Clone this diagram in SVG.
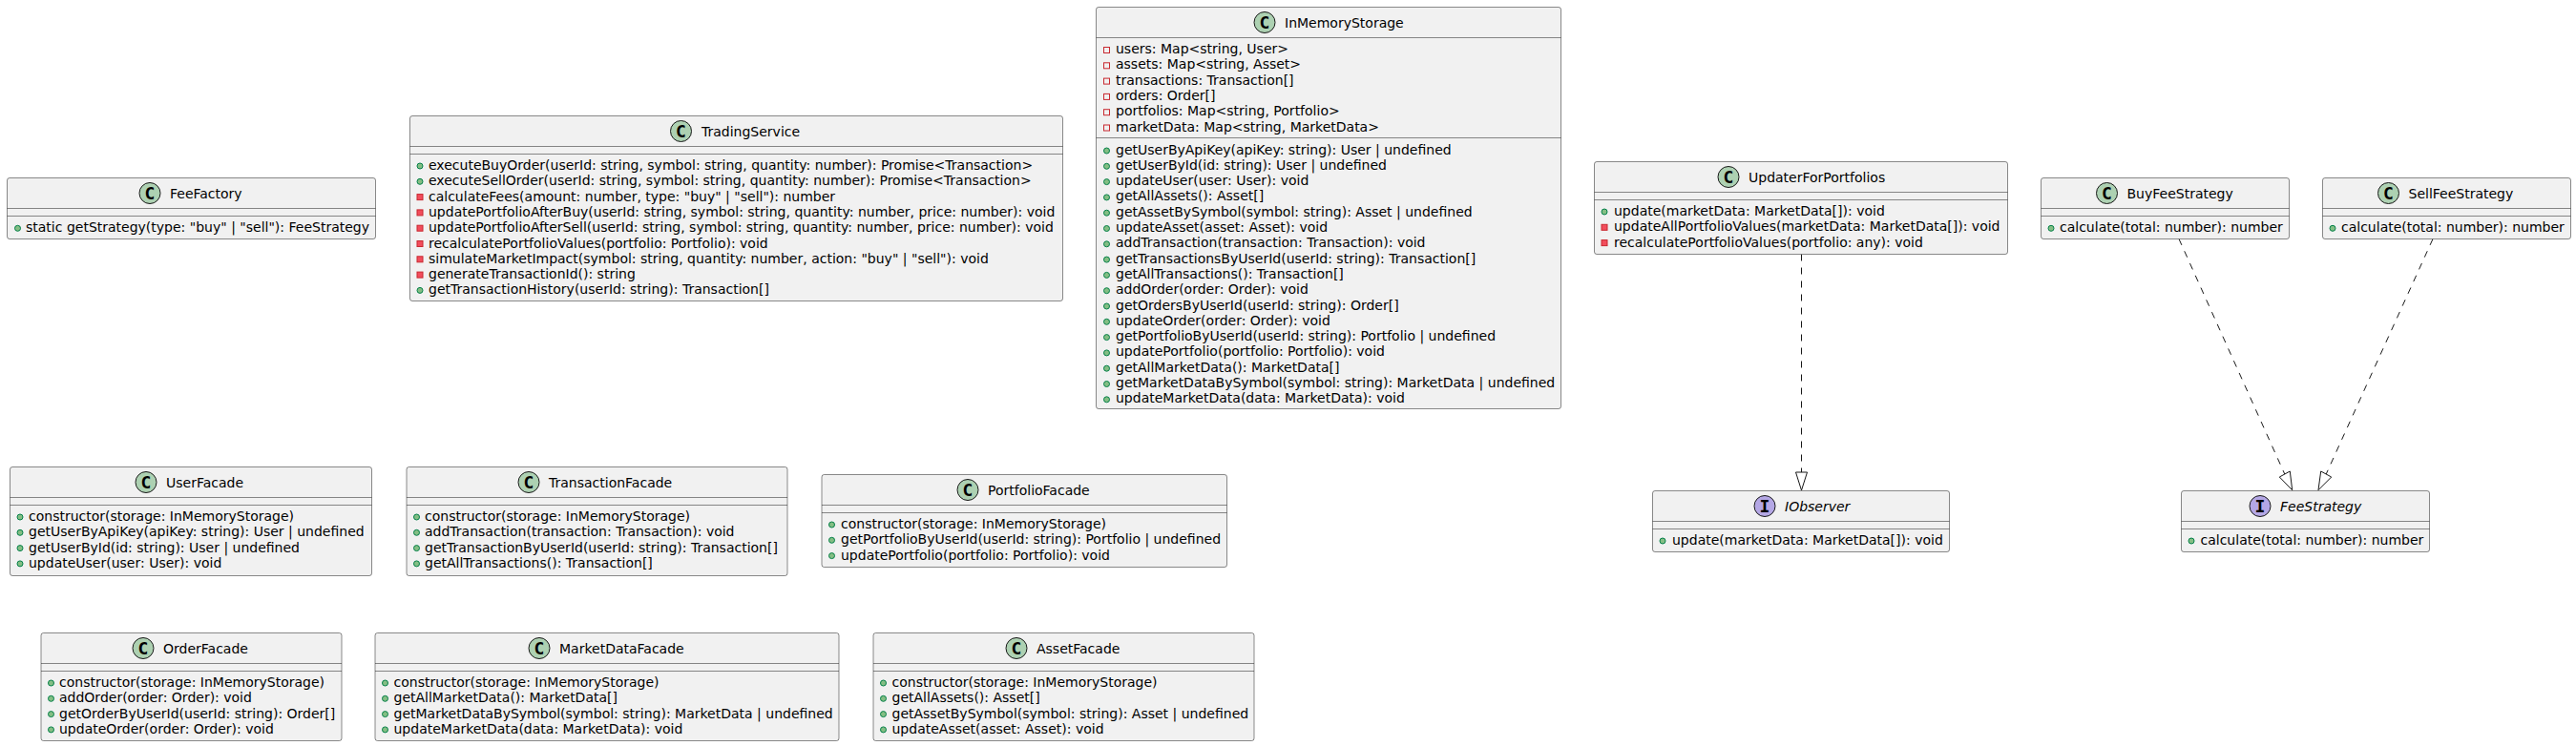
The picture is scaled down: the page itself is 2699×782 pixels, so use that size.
<svg xmlns="http://www.w3.org/2000/svg" width="2699" height="782" viewBox="0 0 2699 782">
<style>
text{font-family:"DejaVu Sans",sans-serif;font-size:14px;fill:#000}
.b{fill:#F1F1F1;stroke:#181818;stroke-width:.5}
.s{stroke:#181818;stroke-width:.5}
.c{fill:#ADD1B2;stroke:#181818;stroke-width:1}
.i{fill:#B4A7E5;stroke:#181818;stroke-width:1}
.g{font-family:"DejaVu Sans Mono",monospace;font-size:18px;font-weight:bold;text-anchor:middle}
.p{fill:#84BE84;stroke:#038048}
.r{fill:#F24D5C;stroke:#C82930}
.f{fill:none;stroke:#C82930}
.e{font-style:italic}
.l{fill:none;stroke:#181818;stroke-width:1;stroke-dasharray:7,7}
.h{fill:none;stroke:#181818;stroke-width:1}
</style>
<defs>
<circle id="pub" class="p" r="3"/>
<rect id="pri" class="r" x="-3" y="-3" width="6" height="6"/>
<rect id="fld" class="f" x="-3" y="-3" width="6" height="6"/>
</defs>
<g id="connectors">
<path class="l" d="M1887.500 266.500V495"/><polygon class="h" points="1887.500,514 1881.500,495 1893.500,495"/>
<path class="l" d="M2283 250.500L2393.800 497"/><polygon class="h" points="2401.700,513.700 2388.300,500 2399.300,494"/>
<path class="l" d="M2549 250.500L2437.200 497"/><polygon class="h" points="2429,513.700 2431.700,494 2442.700,500"/>
</g>
<g id="FeeFactory"><rect class="b" x="7.500" y="186.500" width="386" height="64" rx="2.500"/><path class="s" d="M7.500 218.500H393.500M7.500 226.500H393.500"/><circle class="c" cx="157" cy="202.500" r="11"/><text class="g" x="157" y="208.500">C</text><text x="178" y="207.500">FeeFactory</text><use href="#pub" x="18.500" y="239.300"/><text x="27" y="243.300">static getStrategy(type: "buy" | "sell"): FeeStrategy</text></g>
<g id="TradingService"><rect class="b" x="429.500" y="121.500" width="684" height="194" rx="2.500"/><path class="s" d="M429.500 153.500H1113.500M429.500 161.500H1113.500"/><circle class="c" cx="713.500" cy="137.500" r="11"/><text class="g" x="713.500" y="143.500">C</text><text x="735" y="142.500">TradingService</text>
<use href="#pub" x="440" y="174"/><text x="449" y="178">executeBuyOrder(userId: string, symbol: string, quantity: number): Promise&lt;Transaction&gt;</text>
<use href="#pub" x="440" y="190.300"/><text x="449" y="194.300">executeSellOrder(userId: string, symbol: string, quantity: number): Promise&lt;Transaction&gt;</text>
<use href="#pri" x="440" y="206.600"/><text x="449" y="210.600">calculateFees(amount: number, type: "buy" | "sell"): number</text>
<use href="#pri" x="440" y="222.900"/><text x="449" y="226.900">updatePortfolioAfterBuy(userId: string, symbol: string, quantity: number, price: number): void</text>
<use href="#pri" x="440" y="239.200"/><text x="449" y="243.200">updatePortfolioAfterSell(userId: string, symbol: string, quantity: number, price: number): void</text>
<use href="#pri" x="440" y="255.500"/><text x="449" y="259.500">recalculatePortfolioValues(portfolio: Portfolio): void</text>
<use href="#pri" x="440" y="271.800"/><text x="449" y="275.800">simulateMarketImpact(symbol: string, quantity: number, action: "buy" | "sell"): void</text>
<use href="#pri" x="440" y="288.100"/><text x="449" y="292.100">generateTransactionId(): string</text>
<use href="#pub" x="440" y="304.400"/><text x="449" y="308.400">getTransactionHistory(userId: string): Transaction[]</text></g>
<g id="InMemoryStorage"><rect class="b" x="1148.500" y="7.500" width="487" height="421" rx="2.500"/><path class="s" d="M1148.500 39.500H1635.500M1148.500 144.500H1635.500"/><circle class="c" cx="1325" cy="23.500" r="11"/><text class="g" x="1325" y="29.500">C</text><text x="1346" y="28.500">InMemoryStorage</text>
<use href="#fld" x="1159.500" y="52.500"/><text x="1169" y="56">users: Map&lt;string, User&gt;</text>
<use href="#fld" x="1159.500" y="68.800"/><text x="1169" y="72.300">assets: Map&lt;string, Asset&gt;</text>
<use href="#fld" x="1159.500" y="85.100"/><text x="1169" y="88.600">transactions: Transaction[]</text>
<use href="#fld" x="1159.500" y="101.400"/><text x="1169" y="104.900">orders: Order[]</text>
<use href="#fld" x="1159.500" y="117.700"/><text x="1169" y="121.200">portfolios: Map&lt;string, Portfolio&gt;</text>
<use href="#fld" x="1159.500" y="134"/><text x="1169" y="137.500">marketData: Map&lt;string, MarketData&gt;</text>
<use href="#pub" x="1159.500" y="158"/><text x="1169" y="161.500">getUserByApiKey(apiKey: string): User | undefined</text>
<use href="#pub" x="1159.500" y="174.300"/><text x="1169" y="177.800">getUserById(id: string): User | undefined</text>
<use href="#pub" x="1159.500" y="190.600"/><text x="1169" y="194.100">updateUser(user: User): void</text>
<use href="#pub" x="1159.500" y="206.900"/><text x="1169" y="210.400">getAllAssets(): Asset[]</text>
<use href="#pub" x="1159.500" y="223.200"/><text x="1169" y="226.700">getAssetBySymbol(symbol: string): Asset | undefined</text>
<use href="#pub" x="1159.500" y="239.500"/><text x="1169" y="243">updateAsset(asset: Asset): void</text>
<use href="#pub" x="1159.500" y="255.800"/><text x="1169" y="259.300">addTransaction(transaction: Transaction): void</text>
<use href="#pub" x="1159.500" y="272.100"/><text x="1169" y="275.600">getTransactionsByUserId(userId: string): Transaction[]</text>
<use href="#pub" x="1159.500" y="288.400"/><text x="1169" y="291.900">getAllTransactions(): Transaction[]</text>
<use href="#pub" x="1159.500" y="304.700"/><text x="1169" y="308.200">addOrder(order: Order): void</text>
<use href="#pub" x="1159.500" y="321"/><text x="1169" y="324.500">getOrdersByUserId(userId: string): Order[]</text>
<use href="#pub" x="1159.500" y="337.300"/><text x="1169" y="340.800">updateOrder(order: Order): void</text>
<use href="#pub" x="1159.500" y="353.600"/><text x="1169" y="357.100">getPortfolioByUserId(userId: string): Portfolio | undefined</text>
<use href="#pub" x="1159.500" y="369.900"/><text x="1169" y="373.400">updatePortfolio(portfolio: Portfolio): void</text>
<use href="#pub" x="1159.500" y="386.200"/><text x="1169" y="389.700">getAllMarketData(): MarketData[]</text>
<use href="#pub" x="1159.500" y="402.500"/><text x="1169" y="406">getMarketDataBySymbol(symbol: string): MarketData | undefined</text>
<use href="#pub" x="1159.500" y="418.800"/><text x="1169" y="422.300">updateMarketData(data: MarketData): void</text></g>
<g id="UpdaterForPortfolios"><rect class="b" x="1670.500" y="169.500" width="433" height="97" rx="2.500"/><path class="s" d="M1670.500 201.500H2103.500M1670.500 209.500H2103.500"/><circle class="c" cx="1811" cy="185.500" r="11"/><text class="g" x="1811" y="191.500">C</text><text x="1832" y="190.500">UpdaterForPortfolios</text>
<use href="#pub" x="1681" y="222"/><text x="1691" y="226">update(marketData: MarketData[]): void</text>
<use href="#pri" x="1681" y="238.300"/><text x="1691" y="242.300">updateAllPortfolioValues(marketData: MarketData[]): void</text>
<use href="#pri" x="1681" y="254.600"/><text x="1691" y="258.600">recalculatePortfolioValues(portfolio: any): void</text></g>
<g id="BuyFeeStrategy"><rect class="b" x="2138.500" y="186.500" width="260" height="64" rx="2.500"/><path class="s" d="M2138.500 218.500H2398.500M2138.500 226.500H2398.500"/><circle class="c" cx="2207.500" cy="202.500" r="11"/><text class="g" x="2207.500" y="208.500">C</text><text x="2228.500" y="207.500">BuyFeeStrategy</text><use href="#pub" x="2149" y="239.300"/><text x="2158" y="243.300">calculate(total: number): number</text></g>
<g id="SellFeeStrategy"><rect class="b" x="2433.500" y="186.500" width="260" height="64" rx="2.500"/><path class="s" d="M2433.500 218.500H2693.500M2433.500 226.500H2693.500"/><circle class="c" cx="2502.500" cy="202.500" r="11"/><text class="g" x="2502.500" y="208.500">C</text><text x="2523.500" y="207.500">SellFeeStrategy</text><use href="#pub" x="2444" y="239.300"/><text x="2453" y="243.300">calculate(total: number): number</text></g>
<g id="IObserver"><rect class="b" x="1731.500" y="514.500" width="311" height="64" rx="2.500"/><path class="s" d="M1731.500 546.500H2042.500M1731.500 554.500H2042.500"/><circle class="i" cx="1849" cy="530.500" r="11"/><text class="g" x="1849" y="536.500">I</text><text class="e" x="1870" y="535.500">IObserver</text><use href="#pub" x="1742" y="567"/><text x="1752" y="571">update(marketData: MarketData[]): void</text></g>
<g id="FeeStrategy"><rect class="b" x="2285.500" y="514.500" width="260" height="64" rx="2.500"/><path class="s" d="M2285.500 546.500H2545.500M2285.500 554.500H2545.500"/><circle class="i" cx="2368" cy="530.500" r="11"/><text class="g" x="2368" y="536.500">I</text><text class="e" x="2389" y="535.500">FeeStrategy</text><use href="#pub" x="2296" y="567"/><text x="2305.500" y="571">calculate(total: number): number</text></g>
<g id="UserFacade"><rect class="b" x="10.500" y="489.500" width="379" height="114" rx="2.500"/><path class="s" d="M10.500 521.500H389.500M10.500 529.500H389.500"/><circle class="c" cx="153" cy="505.500" r="11"/><text class="g" x="153" y="511.500">C</text><text x="174" y="510.500">UserFacade</text>
<use href="#pub" x="21" y="542"/><text x="30" y="546">constructor(storage: InMemoryStorage)</text>
<use href="#pub" x="21" y="558.300"/><text x="30" y="562.300">getUserByApiKey(apiKey: string): User | undefined</text>
<use href="#pub" x="21" y="574.600"/><text x="30" y="578.600">getUserById(id: string): User | undefined</text>
<use href="#pub" x="21" y="590.900"/><text x="30" y="594.900">updateUser(user: User): void</text></g>
<g id="TransactionFacade"><rect class="b" x="426" y="489.500" width="399" height="114" rx="2.500"/><path class="s" d="M426 521.500H825M426 529.500H825"/><circle class="c" cx="554" cy="505.500" r="11"/><text class="g" x="554" y="511.500">C</text><text x="575" y="510.500">TransactionFacade</text>
<use href="#pub" x="436.500" y="542"/><text x="445" y="546">constructor(storage: InMemoryStorage)</text>
<use href="#pub" x="436.500" y="558.300"/><text x="445" y="562.300">addTransaction(transaction: Transaction): void</text>
<use href="#pub" x="436.500" y="574.600"/><text x="445" y="578.600">getTransactionByUserId(userId: string): Transaction[]</text>
<use href="#pub" x="436.500" y="590.900"/><text x="445" y="594.900">getAllTransactions(): Transaction[]</text></g>
<g id="PortfolioFacade"><rect class="b" x="861" y="497.500" width="424.500" height="97" rx="2.500"/><path class="s" d="M861 529.500H1285.500M861 537.500H1285.500"/><circle class="c" cx="1014" cy="513.500" r="11"/><text class="g" x="1014" y="519.500">C</text><text x="1035" y="518.500">PortfolioFacade</text>
<use href="#pub" x="871.500" y="550"/><text x="881" y="554">constructor(storage: InMemoryStorage)</text>
<use href="#pub" x="871.500" y="566.300"/><text x="881" y="570.300">getPortfolioByUserId(userId: string): Portfolio | undefined</text>
<use href="#pub" x="871.500" y="582.600"/><text x="881" y="586.600">updatePortfolio(portfolio: Portfolio): void</text></g>
<g id="OrderFacade"><rect class="b" x="43" y="663.500" width="315" height="113" rx="2.500"/><path class="s" d="M43 695.500H358M43 703.500H358"/><circle class="c" cx="150" cy="679.500" r="11"/><text class="g" x="150" y="685.500">C</text><text x="171" y="684.500">OrderFacade</text>
<use href="#pub" x="53.500" y="716"/><text x="62" y="720">constructor(storage: InMemoryStorage)</text>
<use href="#pub" x="53.500" y="732.300"/><text x="62" y="736.300">addOrder(order: Order): void</text>
<use href="#pub" x="53.500" y="748.600"/><text x="62" y="752.600">getOrderByUserId(userId: string): Order[]</text>
<use href="#pub" x="53.500" y="764.900"/><text x="62" y="768.900">updateOrder(order: Order): void</text></g>
<g id="MarketDataFacade"><rect class="b" x="393" y="663.500" width="486" height="113" rx="2.500"/><path class="s" d="M393 695.500H879M393 703.500H879"/><circle class="c" cx="565" cy="679.500" r="11"/><text class="g" x="565" y="685.500">C</text><text x="586" y="684.500">MarketDataFacade</text>
<use href="#pub" x="403.500" y="716"/><text x="412.500" y="720">constructor(storage: InMemoryStorage)</text>
<use href="#pub" x="403.500" y="732.300"/><text x="412.500" y="736.300">getAllMarketData(): MarketData[]</text>
<use href="#pub" x="403.500" y="748.600"/><text x="412.500" y="752.600">getMarketDataBySymbol(symbol: string): MarketData | undefined</text>
<use href="#pub" x="403.500" y="764.900"/><text x="412.500" y="768.900">updateMarketData(data: MarketData): void</text></g>
<g id="AssetFacade"><rect class="b" x="915" y="663.500" width="399" height="113" rx="2.500"/><path class="s" d="M915 695.500H1314M915 703.500H1314"/><circle class="c" cx="1065" cy="679.500" r="11"/><text class="g" x="1065" y="685.500">C</text><text x="1086" y="684.500">AssetFacade</text>
<use href="#pub" x="925.500" y="716"/><text x="934.500" y="720">constructor(storage: InMemoryStorage)</text>
<use href="#pub" x="925.500" y="732.300"/><text x="934.500" y="736.300">getAllAssets(): Asset[]</text>
<use href="#pub" x="925.500" y="748.600"/><text x="934.500" y="752.600">getAssetBySymbol(symbol: string): Asset | undefined</text>
<use href="#pub" x="925.500" y="764.900"/><text x="934.500" y="768.900">updateAsset(asset: Asset): void</text></g>
</svg>
